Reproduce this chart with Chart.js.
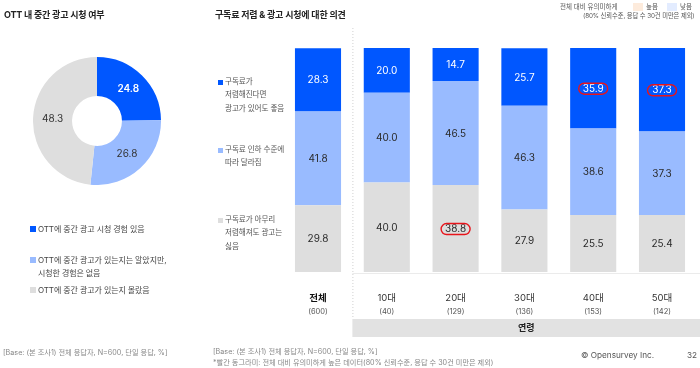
<!DOCTYPE html>
<html><head><meta charset="utf-8">
<script src="https://cdn.jsdelivr.net/npm/chart.js@4"></script>
<style>
html,body{margin:0;padding:0;background:#fff;}
body{width:700px;height:368px;position:relative;overflow:hidden;font-family:"Inter","Noto Sans CJK KR",sans-serif;}
.t{position:absolute;white-space:nowrap;transform:translateY(-50%);line-height:1;}
.sq{position:absolute;}
canvas{position:absolute;}
</style></head>
<body>
<canvas id="bar" width="700" height="368" style="left:0;top:0;width:700px;height:368px"></canvas>
<canvas id="pie" width="128" height="128" style="left:33px;top:57px;width:128px;height:128px"></canvas>
<script>
// ---- data ----
const pieLabels = ['OTT에 중간 광고 시청 경험 있음', 'OTT에 중간 광고가 있는지는 알았지만, 시청한 경험은 없음', 'OTT에 중간 광고가 있는지 몰랐음'];
const pieValues = [24.8, 26.8, 48.3];

const categories = ['전체', '10대', '20대', '30대', '40대', '50대'];
const sampleSizes = ['(600)', '(40)', '(129)', '(136)', '(153)', '(142)'];
const seriesNames = ['구독료가 아무리 저렴해져도 광고는 싫음', '구독료 인하 수준에 따라 달라짐', '구독료가 저렴해진다면 광고가 있어도 좋음'];
const dislikeAds = [29.8, 40.0, 38.8, 27.9, 25.5, 25.4];
const depends = [41.8, 40.0, 46.5, 46.3, 38.6, 37.3];
const okWithAds = [28.3, 20.0, 14.7, 25.7, 35.9, 37.3];
// highlighted (red ellipse) cells: [series index, category index]
const highlights = [[0, 2], [2, 4], [2, 5]];

const BLUE = '#0057FF', LIGHT = '#99BBFF', GRAY = '#DEDEDE';
const FONT = '"Inter","Noto Sans CJK KR",sans-serif';

// ---- static text helpers ----
function txt(x, y, s, css) {
  const d = document.createElement('div');
  d.className = 't'; d.textContent = s;
  d.style.left = x + 'px'; d.style.top = y + 'px';
  Object.assign(d.style, css || {});
  document.body.appendChild(d);
  return d;
}
function sq(x, y, w, h, c) {
  const d = document.createElement('div');
  d.className = 'sq';
  Object.assign(d.style, {left: x + 'px', top: y + 'px', width: w + 'px', height: h + 'px', background: c});
  document.body.appendChild(d);
}
const title = {fontSize: '9px', fontWeight: '700', color: '#222', letterSpacing: '-0.2px'};
txt(4, 14, 'OTT 내 중간 광고 시청 여부', title);
txt(215, 14, '구독료 저렴 & 광고 시청에 대한 의견', title);

// top-right legend
const small = {fontSize: '6.5px', color: '#555'};
txt(560, 7, '전체 대비 유의미하게', small);
sq(633, 3, 10, 8, '#FDEBDC'); txt(646, 7, '높음', small);
sq(667, 3, 10, 8, '#E3ECFF'); txt(680, 7, '낮음', small);
txt(583, 16, '(80% 신뢰수준, 응답 수 30건 미만은 제외)', {fontSize: '6.3px', color: '#555', letterSpacing: '-0.1px'});

// donut legend
const leg = {fontSize: '8px', color: '#444', letterSpacing: '-0.1px'};
sq(30, 226, 6, 6, BLUE); txt(38, 229, pieLabels[0], leg);
sq(30, 257, 6, 6, LIGHT); txt(38, 260, 'OTT에 중간 광고가 있는지는 알았지만,', leg);
txt(38, 273, '시청한 경험은 없음', leg);
sq(30, 287, 6, 6, GRAY); txt(38, 290, pieLabels[2], leg);

// bar series legend
const leg2 = {fontSize: '7.6px', color: '#555', letterSpacing: '-0.1px'};
sq(218, 80, 5, 5, BLUE);
txt(225, 82, '구독료가', leg2); txt(225, 95, '저렴해진다면', leg2); txt(225, 109, '광고가 있어도 좋음', leg2);
sq(218, 148, 5, 5, LIGHT);
txt(225, 150, '구독료 인하 수준에', leg2); txt(225, 163, '따라 달라짐', leg2);
sq(218, 218, 5, 5, GRAY);
txt(225, 220, '구독료가 아무리', leg2); txt(225, 233, '저렴해져도 광고는', leg2); txt(225, 247, '싫음', leg2);

// footnotes
const foot = {fontSize: '7.2px', color: '#888'};
txt(3, 353, '[Base: (본 조사1) 전체 응답자, N=600, 단일 응답, %]', foot);
txt(213, 352, '[Base: (본 조사1) 전체 응답자, N=600, 단일 응답, %]', foot);
txt(213, 363, '*빨간 동그라미: 전체 대비 유의미하게 높은 데이터(80% 신뢰수준, 응답 수 30건 미만은 제외)', foot);
txt(581, 355, '© Opensurvey Inc.', {fontSize: '8.2px', color: '#555'});
txt(687, 355, '32', {fontSize: '8.2px', color: '#555'});

// ---- donut ----
const pieLabelPlugin = {
  id: 'pieLabels',
  afterDatasetsDraw(chart) {
    const ctx = chart.ctx;
    const meta = chart.getDatasetMeta(0);
    ctx.save();
    ctx.textAlign = 'center'; ctx.textBaseline = 'middle';
    meta.data.forEach((el, i) => {
      const p = el.tooltipPosition();
      ctx.font = (i === 0 ? '600 ' : '400 ') + '10px ' + FONT;
      ctx.fillStyle = i === 0 ? '#fff' : '#333';
      ctx.fillText(pieValues[i].toFixed(1), p.x, p.y);
    });
    ctx.restore();
  }
};
new Chart(document.getElementById('pie'), {
  type: 'doughnut',
  data: {labels: pieLabels, datasets: [{data: pieValues, backgroundColor: [BLUE, LIGHT, GRAY], borderWidth: 0}]},
  options: {
    responsive: false, animation: false, cutout: '39%',
    plugins: {legend: {display: false}, tooltip: {enabled: false}}
  },
  plugins: [pieLabelPlugin]
});

// ---- stacked bars ----
const barPlugin = {
  id: 'barDecor',
  beforeDatasetsDraw(chart) {
    const ctx = chart.ctx, xs = chart.scales.x, ca = chart.chartArea;
    const sep = (xs.getPixelForValue(0) + xs.getPixelForValue(1)) / 2;
    ctx.save();
    // bottom baseline
    ctx.strokeStyle = '#EBEBEB'; ctx.lineWidth = 1;
    ctx.beginPath(); ctx.moveTo(sep, ca.bottom + 1.5); ctx.lineTo(700, ca.bottom + 1.5); ctx.stroke();
    // dotted separator
    ctx.strokeStyle = '#D0D0D0'; ctx.setLineDash([1, 2]);
    ctx.beginPath(); ctx.moveTo(sep + 0.5, 28); ctx.lineTo(sep + 0.5, 318); ctx.stroke();
    ctx.setLineDash([]);
    // age group box
    ctx.fillStyle = '#E2E2E2';
    ctx.fillRect(sep, 319, 700 - sep, 18);
    ctx.fillStyle = '#222'; ctx.font = '700 9px ' + FONT;
    ctx.textAlign = 'center'; ctx.textBaseline = 'middle';
    ctx.fillText('연령', (sep + 700) / 2, 328);
    // category labels
    categories.forEach((c, i) => {
      const x = xs.getPixelForValue(i);
      ctx.font = (i === 0 ? '700 ' : '400 ') + '9.5px ' + FONT;
      ctx.fillStyle = i === 0 ? '#111' : '#333';
      ctx.fillText(c, x, 298);
      ctx.font = '400 7.5px ' + FONT; ctx.fillStyle = '#555';
      ctx.fillText(sampleSizes[i], x, 312);
    });
    ctx.restore();
  },
  afterDatasetsDraw(chart) {
    const ctx = chart.ctx;
    ctx.save();
    ctx.textAlign = 'center'; ctx.textBaseline = 'middle';
    chart.data.datasets.forEach((ds, di) => {
      const meta = chart.getDatasetMeta(di);
      meta.data.forEach((el, i) => {
        const y = (el.y + el.base) / 2;
        ctx.font = '400 10px ' + FONT;
        ctx.fillStyle = di === 2 ? '#fff' : '#2a2a2a';
        ctx.fillText(ds.data[i].toFixed(1), el.x, y + 0.5);
      });
    });
    ctx.strokeStyle = '#E8141B'; ctx.lineWidth = 1.4;
    highlights.forEach(([di, i]) => {
      const el = chart.getDatasetMeta(di).data[i];
      const cx = el.x, cy = (el.y + el.base) / 2 + 0.5, w = 29, h = 11, r = 5.5;
      ctx.beginPath();
      ctx.roundRect(cx - w / 2, cy - h / 2, w, h, r);
      ctx.stroke();
    });
    ctx.restore();
  }
};
new Chart(document.getElementById('bar'), {
  type: 'bar',
  data: {
    labels: categories,
    datasets: [
      {label: seriesNames[0], data: dislikeAds, backgroundColor: GRAY},
      {label: seriesNames[1], data: depends, backgroundColor: LIGHT},
      {label: seriesNames[2], data: okWithAds, backgroundColor: BLUE}
    ]
  },
  options: {
    responsive: false, animation: false,
    layout: {padding: {left: 283.6, right: 3.6, top: 48, bottom: 96}},
    datasets: {bar: {barPercentage: 0.67, categoryPercentage: 1, borderWidth: 0}},
    scales: {
      x: {display: false, stacked: true},
      y: {display: false, stacked: true, min: 0, max: 100}
    },
    plugins: {legend: {display: false}, tooltip: {enabled: false}}
  },
  plugins: [barPlugin]
});
</script>
</body></html>
